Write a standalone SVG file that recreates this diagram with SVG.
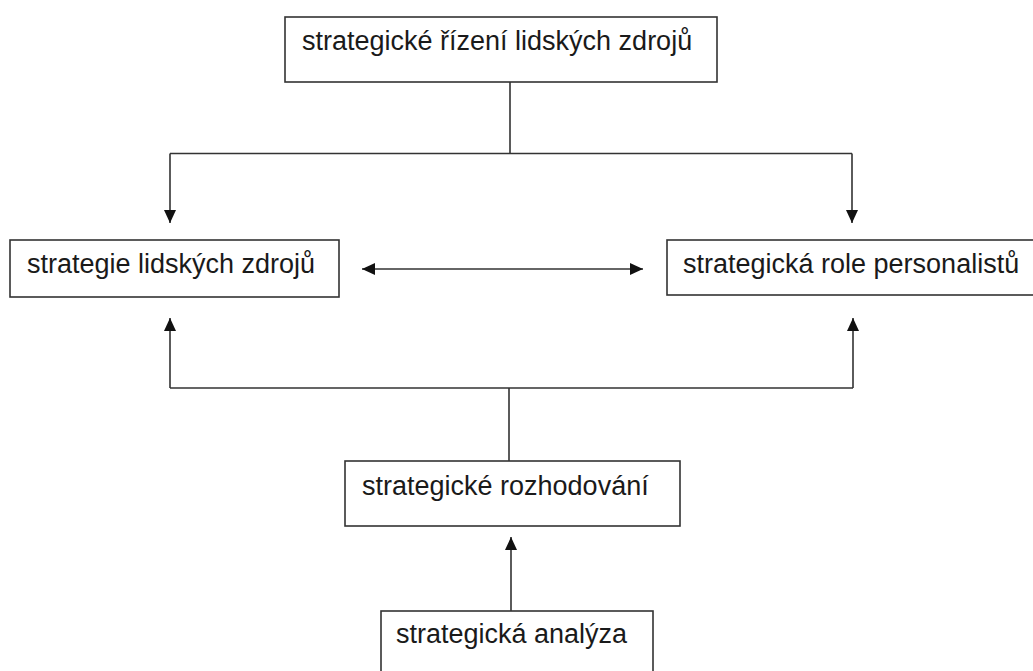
<svg xmlns="http://www.w3.org/2000/svg" width="1033" height="671" viewBox="0 0 1033 671">
<style>
.box{fill:#fff;stroke:#333;stroke-width:1.6}
.lbl{font-family:"Liberation Sans",Arial,sans-serif;font-size:27px;fill:#1a1a1a}
.con{fill:none;stroke:#333;stroke-width:1.6}
</style>
<defs>
<marker id="ah" markerUnits="userSpaceOnUse" markerWidth="16" markerHeight="16" viewBox="0 0 16 16" refX="14" refY="8" orient="auto-start-reverse">
<path d="M1,2 L14,8 L1,14 Z" fill="#111"/>
</marker>
</defs>
<rect width="1033" height="671" fill="#fff"/>
<g id="connectors">
<path class="con" d="M510,82 V153.5 M170,153.5 H852"/>
<path class="con" d="M170,153.5 V223" marker-end="url(#ah)"/>
<path class="con" d="M852,153.5 V223" marker-end="url(#ah)"/>
<path class="con" d="M362,269 H643" marker-start="url(#ah)" marker-end="url(#ah)"/>
<path class="con" d="M170,388 H853 M509,388 V461"/>
<path class="con" d="M170,388 V318" marker-end="url(#ah)"/>
<path class="con" d="M853,388 V318" marker-end="url(#ah)"/>
<path class="con" d="M511,611 V537" marker-end="url(#ah)"/>
</g>
<g id="n1"><rect class="box" x="285" y="17" width="432" height="65"/><text class="lbl" x="302" y="50">strategické řízení lidských zdrojů</text></g>
<g id="n2"><rect class="box" x="10" y="240" width="329" height="57"/><text class="lbl" x="27" y="273">strategie lidských zdrojů</text></g>
<g id="n3"><rect class="box" x="667" y="240" width="380" height="55"/><text class="lbl" x="683" y="273">strategická role personalistů</text></g>
<g id="n4"><rect class="box" x="345" y="461" width="335" height="65"/><text class="lbl" x="362" y="495">strategické rozhodování</text></g>
<g id="n5"><rect class="box" x="381" y="611" width="272" height="70"/><text class="lbl" x="396" y="643">strategická analýza</text></g>
</svg>
